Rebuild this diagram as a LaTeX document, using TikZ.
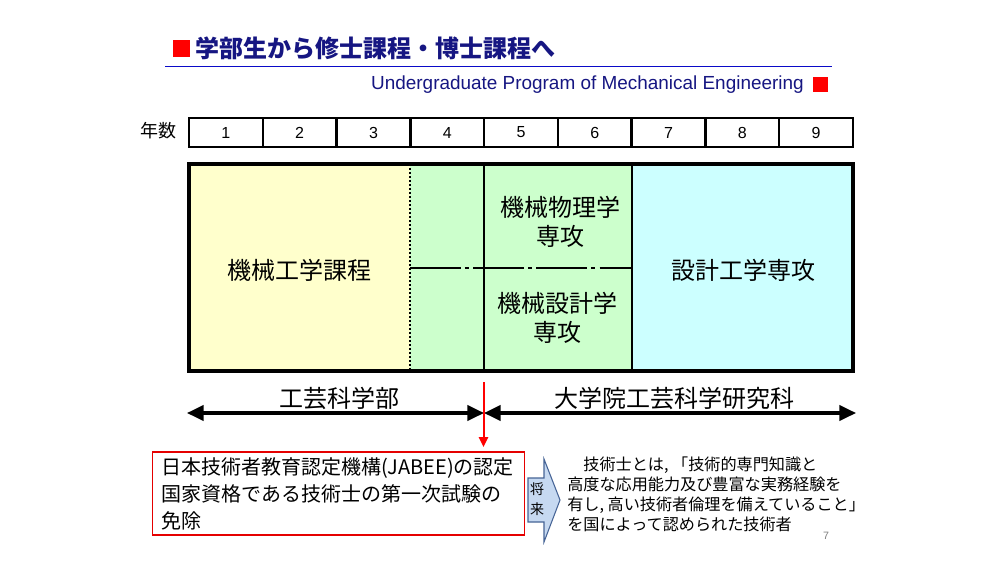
\documentclass[tikz,border=0pt]{standalone}
\usepackage{fontspec}
\setmainfont{Noto Sans CJK JP}
\newfontfamily\arialf{Liberation Sans}
\usetikzlibrary{arrows.meta}
\definecolor{navy}{RGB}{22,22,130}
\definecolor{lineblue}{RGB}{10,10,200}
\definecolor{yel}{RGB}{255,255,204}
\definecolor{grn}{RGB}{204,255,204}
\definecolor{cyn}{RGB}{204,255,255}
\definecolor{arrfill}{RGB}{198,217,241}
\definecolor{arrdraw}{RGB}{70,100,150}
\tikzset{
  bigtxt/.style={font=\fontsize{18}{21.75}\selectfont, align=center, inner sep=0},
  yeartxt/.style={font=\arialf\fontsize{12}{12}\selectfont, inner sep=0},
  spanarrow/.style={line width=2.3pt, {Triangle[length=12.5pt,width=11.5pt]}-{Triangle[length=12.5pt,width=11.5pt]}},
}
\begin{document}
\begin{tikzpicture}[x=0.75pt,y=-0.75pt]
\useasboundingbox[fill=white] (0,0) rectangle (999,561);
% title
\fill[red] (173,40) rectangle (190,57);
\node[anchor=west, font=\fontsize{18}{18}\selectfont\bfseries, text=navy, inner sep=0] (title) at (195,48) {学部生から修士課程・博士課程へ};
\draw[lineblue, line width=1.2pt] (165,66.5) -- (832,66.5);
\node[anchor=east, font=\arialf\fontsize{14.2}{15}\selectfont, text=navy, inner sep=0] (subtitle) at (804,85) {Undergraduate Program of Mechanical Engineering};
\fill[red] (813,77) rectangle (828,92);
% year row
\node[font=\fontsize{13.5}{14}\selectfont, inner sep=0] (nen) at (158,131) {年数};
\draw[line width=1.8pt] (189,118) rectangle (853,147);
\foreach \i in {1,...,8} \draw[line width=1.8pt] ({189+\i*73.78},118) -- ({189+\i*73.78},147);
\foreach \i in {1,...,9} \node[yeartxt] (y\i) at ({189+(\i-0.5)*73.78},132.5) {\i};
% main regions
\fill[yel] (189,164) rectangle (410,371);
\fill[grn] (410,164) rectangle (632,371);
\fill[cyn] (632,164) rectangle (853,371);
\draw[line width=1.3pt, dash pattern=on 1.5pt off 1.5pt] (410,164) -- (410,371);
\draw[line width=1.6pt, dash pattern=on 38pt off 3.2pt on 3pt off 3.2pt] (410,268) -- (632,268);
\draw[line width=1.7pt] (484,164) -- (484,371);
\draw[line width=1.7pt] (632,164) -- (632,371);
\draw[line width=2.5pt] (189,164) rectangle (853,371);
\node[bigtxt] (kikai) at (299,270) {機械工学課程};
\node[bigtxt] (butsuri) at (560,222) {機械物理学\\専攻};
\node[bigtxt] (sekkei) at (557,318) {機械設計学\\専攻};
\node[bigtxt] (design) at (743,270) {設計工学専攻};
% spans
\coordinate (uL) at (187,413);
\coordinate (mid) at (484,413);
\coordinate (gR) at (856,413);
\draw[spanarrow] (uL) -- (mid);
\draw[spanarrow] (mid) -- (gR);
\node[bigtxt] (gakubu) at (339,398) {工芸科学部};
\node[bigtxt] (daigakuin) at (674,398) {大学院工芸科学研究科};
% red arrow
\coordinate (rtop) at (483.5,382);
\coordinate (rbot) at (483.5,447);
\draw[red, line width=1.5pt, -{Triangle[length=7.5pt,width=7pt]}] (rtop) -- (rbot);
% JABEE box
\node[draw=red!90!black, line width=1.2pt, minimum width=372*0.75pt, minimum height=83*0.75pt, inner sep=0] (jbox) at (338.5,493.5) {};
\node[anchor=west, align=left, font=\fontsize{15}{20.25}\selectfont, inner sep=0] (jabee) at (161,494) {日本技術者教育認定機構(JABEE)の認定\\国家資格である技術士の第一次試験の\\免除};
% block arrow
\draw[fill=arrfill, draw=arrdraw, line width=0.8pt] (528,478) -- (544,478) -- (544,459) -- (560,500) -- (544,542) -- (544,522) -- (528,522) -- cycle;
\node[align=center, font=\fontsize{10.5}{15}\selectfont, inner sep=0] (shourai) at (537,499) {将\\来};
% explanation
\node[anchor=west, align=left, font=\fontsize{12.1}{15}\selectfont, inner sep=0] (gijutsushi) at (567,494.5) {　技術士とは, 「技術的専門知識と\\高度な応用能力及び豊富な実務経験を\\有し, 高い技術者倫理を備えていること」\\を国によって認められた技術者};
\node[font=\arialf\fontsize{8}{8}\selectfont, text=gray, inner sep=0] (pnum) at (826,536) {7};
\end{tikzpicture}
\end{document}
